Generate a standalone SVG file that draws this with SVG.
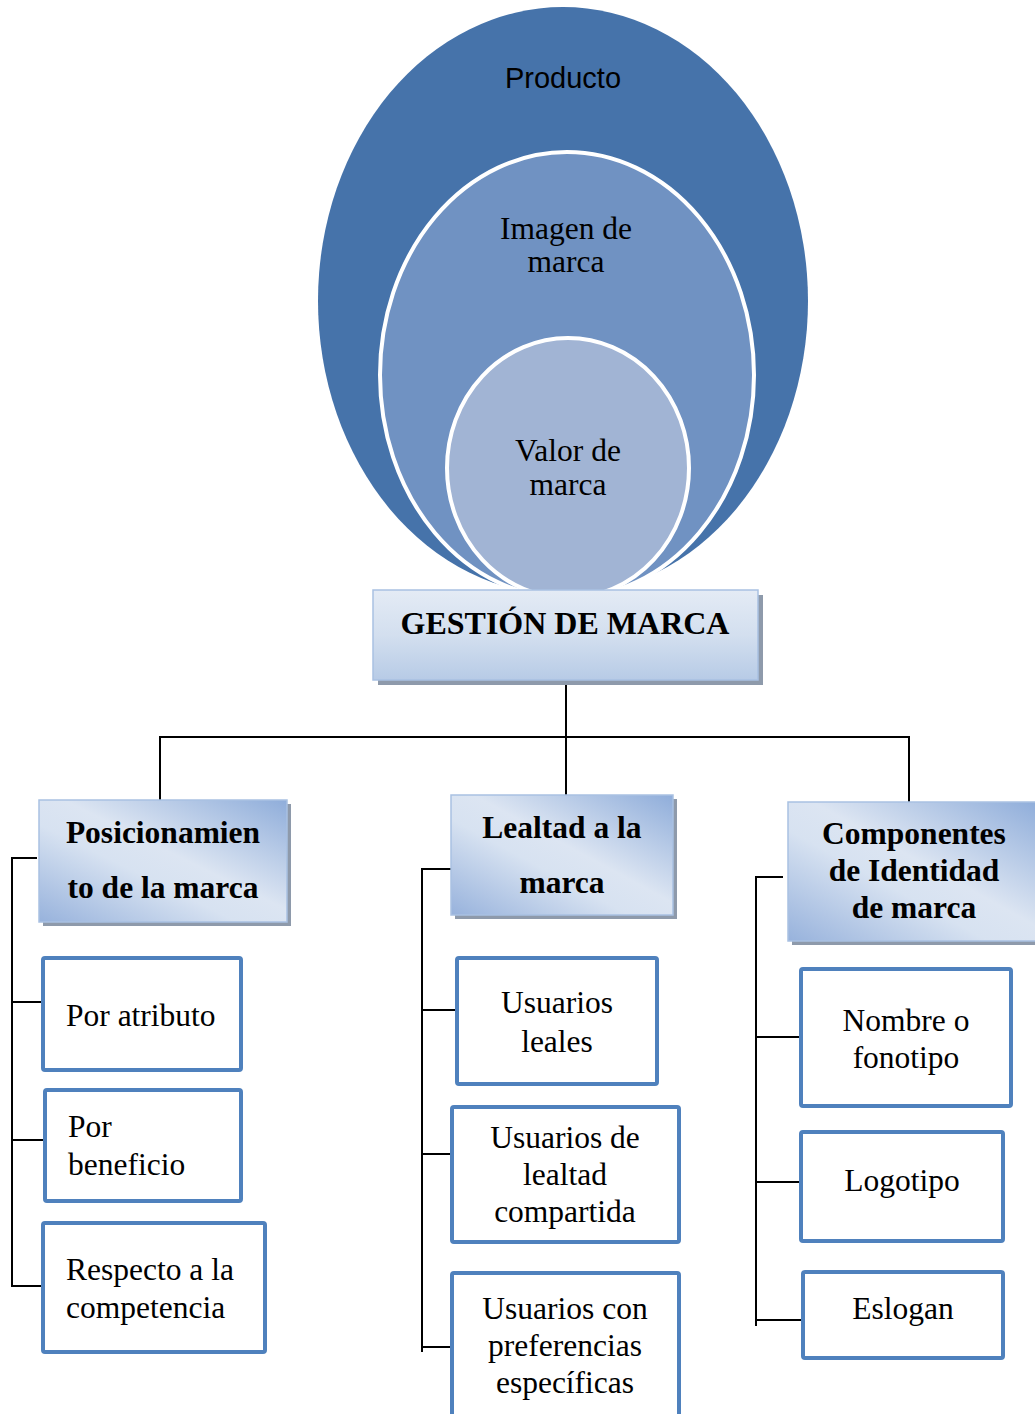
<svg xmlns="http://www.w3.org/2000/svg" width="1035" height="1414" viewBox="0 0 1035 1414">
<style>
.serif{font-family:"Liberation Serif","Times New Roman",serif;fill:#000}
.t{font-size:31.5px}
.b{font-size:31.5px;font-weight:bold}
.leaf{fill:#fff;stroke:#4F81BD;stroke-width:4}
.hdr{stroke:#A9C1E2;stroke-width:1.5}
.sh{fill:#8E9AAB}
.conn line{stroke:#000;stroke-width:2}
</style>
<defs>
<linearGradient id="g1" x1="0" y1="0" x2="0" y2="1">
<stop offset="0" stop-color="#E4EBF5"/>
<stop offset="0.5" stop-color="#D3DFEF"/>
<stop offset="1" stop-color="#B7CBE6"/>
</linearGradient>
<linearGradient id="g2" x1="1" y1="0" x2="0" y2="1">
<stop offset="0" stop-color="#8FADDA"/>
<stop offset="0.45" stop-color="#DCE5F2"/>
<stop offset="0.6" stop-color="#D7E2F1"/>
<stop offset="1" stop-color="#97B2DC"/>
</linearGradient>
</defs>

<g id="circles">
<ellipse cx="563" cy="301" rx="245" ry="294" fill="#4673AA"/>
<ellipse cx="567" cy="375" rx="187" ry="223" fill="#7092C2" stroke="#fff" stroke-width="4"/>
<ellipse cx="568" cy="468" rx="121" ry="130" fill="#A1B4D4" stroke="#fff" stroke-width="4"/>
<text x="563" y="88" text-anchor="middle" font-family="Liberation Sans, Arial, sans-serif" font-size="29">Producto</text>
<text class="serif t" x="566" y="239" text-anchor="middle">Imagen de</text>
<text class="serif t" x="566" y="272" text-anchor="middle">marca</text>
<text class="serif t" x="568" y="461" text-anchor="middle">Valor de</text>
<text class="serif t" x="568" y="495" text-anchor="middle">marca</text>
</g>

<g class="conn" id="connectors">
<line x1="566" y1="680" x2="566" y2="797"/>
<line x1="160" y1="737" x2="909" y2="737"/>
<line x1="160" y1="736" x2="160" y2="801"/>
<line x1="909" y1="736" x2="909" y2="803"/>
<line x1="12" y1="858" x2="12" y2="1287"/>
<line x1="11" y1="858" x2="37" y2="858"/>
<line x1="12" y1="1002" x2="43" y2="1002"/>
<line x1="12" y1="1140" x2="45" y2="1140"/>
<line x1="12" y1="1286" x2="43" y2="1286"/>
<line x1="422" y1="869" x2="422" y2="1352"/>
<line x1="421" y1="869" x2="452" y2="869"/>
<line x1="422" y1="1010" x2="457" y2="1010"/>
<line x1="422" y1="1154" x2="451" y2="1154"/>
<line x1="422" y1="1347" x2="451" y2="1347"/>
<line x1="756" y1="877" x2="756" y2="1326"/>
<line x1="755" y1="877" x2="783" y2="877"/>
<line x1="756" y1="1037" x2="801" y2="1037"/>
<line x1="756" y1="1182" x2="801" y2="1182"/>
<line x1="756" y1="1320" x2="803" y2="1320"/>
</g>

<g id="gestion">
<rect class="sh" x="378" y="595" width="385" height="90"/>
<rect x="373" y="590" width="385" height="90" fill="url(#g1)" class="hdr"/>
<text class="serif" x="565" y="634" text-anchor="middle" font-size="32" font-weight="bold">GESTIÓN DE MARCA</text>
</g>

<g id="posicionamiento">
<rect class="sh" x="43" y="804" width="248" height="122"/>
<rect x="39" y="800" width="248" height="122" fill="url(#g2)" class="hdr"/>
<text class="serif b" x="163" y="843" text-anchor="middle">Posicionamien</text>
<text class="serif b" x="163" y="898" text-anchor="middle">to de la marca</text>
</g>

<g id="lealtad">
<rect class="sh" x="455" y="799" width="222" height="120"/>
<rect x="451" y="795" width="222" height="120" fill="url(#g2)" class="hdr"/>
<text class="serif b" x="562" y="838" text-anchor="middle">Lealtad a la</text>
<text class="serif b" x="562" y="893" text-anchor="middle">marca</text>
</g>

<g id="componentes">
<rect class="sh" x="792" y="806" width="250" height="139"/>
<rect x="788" y="802" width="250" height="139" fill="url(#g2)" class="hdr"/>
<text class="serif b" x="914" y="844" text-anchor="middle">Componentes</text>
<text class="serif b" x="914" y="881" text-anchor="middle">de Identidad</text>
<text class="serif b" x="914" y="918" text-anchor="middle">de marca</text>
</g>

<g id="por-atributo">
<rect class="leaf" x="43" y="958" width="198" height="112" rx="2"/>
<text class="serif t" x="66" y="1026">Por atributo</text>
</g>
<g id="por-beneficio">
<rect class="leaf" x="45" y="1090" width="196" height="111" rx="2"/>
<text class="serif t" x="68" y="1137">Por</text>
<text class="serif t" x="68" y="1175">beneficio</text>
</g>
<g id="respecto">
<rect class="leaf" x="43" y="1223" width="222" height="129" rx="2"/>
<text class="serif t" x="66" y="1280">Respecto a la</text>
<text class="serif t" x="66" y="1318">competencia</text>
</g>

<g id="usuarios-leales">
<rect class="leaf" x="457" y="958" width="200" height="126" rx="2"/>
<text class="serif t" x="557" y="1013" text-anchor="middle">Usuarios</text>
<text class="serif t" x="557" y="1052" text-anchor="middle">leales</text>
</g>
<g id="usuarios-compartida">
<rect class="leaf" x="452" y="1107" width="227" height="135" rx="2"/>
<text class="serif t" x="565" y="1148" text-anchor="middle">Usuarios de</text>
<text class="serif t" x="565" y="1185" text-anchor="middle">lealtad</text>
<text class="serif t" x="565" y="1222" text-anchor="middle">compartida</text>
</g>
<g id="usuarios-preferencias">
<rect class="leaf" x="452" y="1273" width="227" height="145" rx="2"/>
<text class="serif t" x="565" y="1319" text-anchor="middle">Usuarios con</text>
<text class="serif t" x="565" y="1356" text-anchor="middle">preferencias</text>
<text class="serif t" x="565" y="1393" text-anchor="middle">específicas</text>
</g>

<g id="nombre">
<rect class="leaf" x="801" y="969" width="210" height="137" rx="2"/>
<text class="serif t" x="906" y="1031" text-anchor="middle">Nombre o</text>
<text class="serif t" x="906" y="1068" text-anchor="middle">fonotipo</text>
</g>
<g id="logotipo">
<rect class="leaf" x="801" y="1132" width="202" height="109" rx="2"/>
<text class="serif t" x="902" y="1191" text-anchor="middle">Logotipo</text>
</g>
<g id="eslogan">
<rect class="leaf" x="803" y="1272" width="200" height="86" rx="2"/>
<text class="serif t" x="903" y="1319" text-anchor="middle">Eslogan</text>
</g>
</svg>
